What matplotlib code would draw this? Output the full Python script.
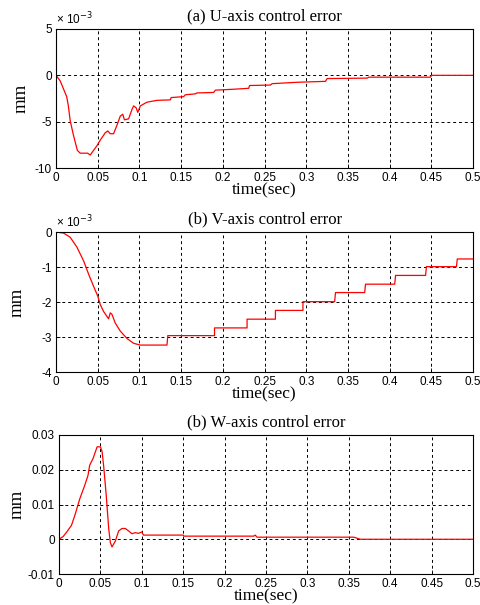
import matplotlib
matplotlib.use('Agg')
import matplotlib.pyplot as plt
from matplotlib.ticker import FuncFormatter

plt.rcParams['axes.unicode_minus'] = False

# U-axis error, units of 1e-3 mm
u_t = [0, 0.005, 0.0128, 0.0148, 0.017, 0.021, 0.0256, 0.029, 0.033, 0.038, 0.041, 0.045,
       0.049, 0.053, 0.059, 0.062, 0.065, 0.069, 0.073, 0.077, 0.080, 0.082, 0.087, 0.091,
       0.093, 0.096, 0.098, 0.101, 0.109, 0.121, 0.137, 0.138, 0.153, 0.155, 0.167, 0.169,
       0.189, 0.191, 0.213, 0.231, 0.232, 0.257, 0.259, 0.289, 0.323, 0.325, 0.373, 0.375,
       0.449, 0.450, 0.5]
u_err = [0, -0.6, -2.3, -3.3, -4.9, -6.5, -8.1, -8.4, -8.4, -8.4, -8.6, -8.1,
         -7.6, -7.0, -6.2, -6.0, -6.3, -6.3, -5.4, -4.4, -4.2, -4.8, -4.7, -3.7,
         -3.3, -3.5, -4.0, -3.3, -2.9, -2.7, -2.65, -2.4, -2.3, -2.1, -2.0, -1.9,
         -1.85, -1.6, -1.5, -1.4, -1.1, -1.05, -0.9, -0.75, -0.65, -0.35, -0.3, -0.2,
         -0.2, 0, 0]

# V-axis error, units of 1e-3 mm
v_t = [0, 0.009, 0.017, 0.025, 0.033, 0.039, 0.045, 0.05, 0.053, 0.057, 0.061, 0.063,
       0.065, 0.067, 0.071, 0.077, 0.085, 0.093, 0.101, 0.133, 0.134, 0.19, 0.19, 0.229,
       0.229, 0.263, 0.263, 0.296, 0.296, 0.334, 0.335, 0.37, 0.371, 0.406, 0.407, 0.443,
       0.444, 0.48, 0.481, 0.5]
v_err = [0, -0.03, -0.15, -0.43, -0.82, -1.2, -1.55, -1.83, -2.07, -2.27, -2.41, -2.48,
         -2.31, -2.35, -2.6, -2.83, -3.04, -3.18, -3.23, -3.23, -2.96, -2.96, -2.74, -2.74,
         -2.49, -2.49, -2.24, -2.24, -1.99, -1.99, -1.73, -1.73, -1.49, -1.49, -1.24, -1.24,
         -0.99, -0.99, -0.77, -0.77]

# W-axis error, mm
w_t = [0, 0.005, 0.009, 0.015, 0.019, 0.025, 0.031, 0.035, 0.037, 0.041, 0.046, 0.05,
       0.052, 0.054, 0.057, 0.06, 0.062, 0.064, 0.068, 0.072, 0.076, 0.08, 0.084, 0.088,
       0.092, 0.096, 0.1, 0.102, 0.15, 0.151, 0.235, 0.237, 0.239, 0.356, 0.36, 0.364, 0.5]
w_err = [0, 0.0008, 0.002, 0.004, 0.0068, 0.0116, 0.0155, 0.0184, 0.0213, 0.0232, 0.0266, 0.0266,
         0.0252, 0.0208, 0.0126, 0.003, -0.001, -0.0022, -0.0005, 0.0024, 0.0031, 0.0031, 0.0024, 0.0016,
         0.0019, 0.0017, 0.0021, 0.0012, 0.0012, 0.0009, 0.0009, 0.0012, 0.0006, 0.0006, 0.0003, 0, 0]

x_ticks = [0, 0.05, 0.1, 0.15, 0.2, 0.25, 0.3, 0.35, 0.4, 0.45, 0.5]

SERIF = 'Liberation Serif'
SANS = 'Liberation Sans'


def style(ax, title, yticks, ylim, ylabelpad):
	ax.set_xlim(0, 0.5)
	ax.set_ylim(*ylim)
	ax.set_xticks(x_ticks)
	ax.set_yticks(yticks)
	ax.xaxis.set_major_formatter(FuncFormatter(lambda v, p: f'{v:g}'))
	ax.yaxis.set_major_formatter(FuncFormatter(lambda v, p: f'{v:g}'))
	ax.tick_params(direction='in', length=3, width=0.6, labelsize=8.5, pad=3)
	for lab in ax.get_xticklabels() + ax.get_yticklabels():
		lab.set_family(SANS)
	ax.grid(True, color='black', linestyle=(0, (3, 3)), linewidth=0.7)
	for s in ax.spines.values():
		s.set_linewidth(0.8)
	ax.set_title(title, fontsize=12, family=SERIF, pad=6)
	ax.set_xlabel('time(sec)', fontsize=12.5, family=SERIF, labelpad=-1)
	ax.set_ylabel('mm', fontsize=13.5, family=SERIF, labelpad=ylabelpad)


fig = plt.figure(figsize=(4.8, 6.05), dpi=100)

ax1 = fig.add_axes([0.1167, 0.7223, 0.869, 0.2298])
ax1.plot(u_t, u_err, color='#ff0000', linewidth=0.9)
style(ax1, '(a) U-axis control error', [-10, -5, 0, 5], (-10, 5), 4)
ax1.text(0.0, 1.01, '× 10$^{-3}$', transform=ax1.transAxes, fontsize=8.5, family=SANS, va='bottom')

ax2 = fig.add_axes([0.1167, 0.3851, 0.869, 0.2314])
ax2.plot(v_t, v_err, color='#ff0000', linewidth=0.9)
style(ax2, '(b) V-axis control error', [-4, -3, -2, -1, 0], (-4, 0), 11)
ax2.text(0.0, 1.01, '× 10$^{-3}$', transform=ax2.transAxes, fontsize=8.5, family=SANS, va='bottom')

ax3 = fig.add_axes([0.123, 0.0512, 0.8625, 0.2298])
ax3.plot(w_t, w_err, color='#ff0000', linewidth=0.9)
style(ax3, '(b) W-axis control error', [-0.01, 0, 0.01, 0.02, 0.03], (-0.01, 0.03), 2)

fig.savefig('out.png', dpi=100)
